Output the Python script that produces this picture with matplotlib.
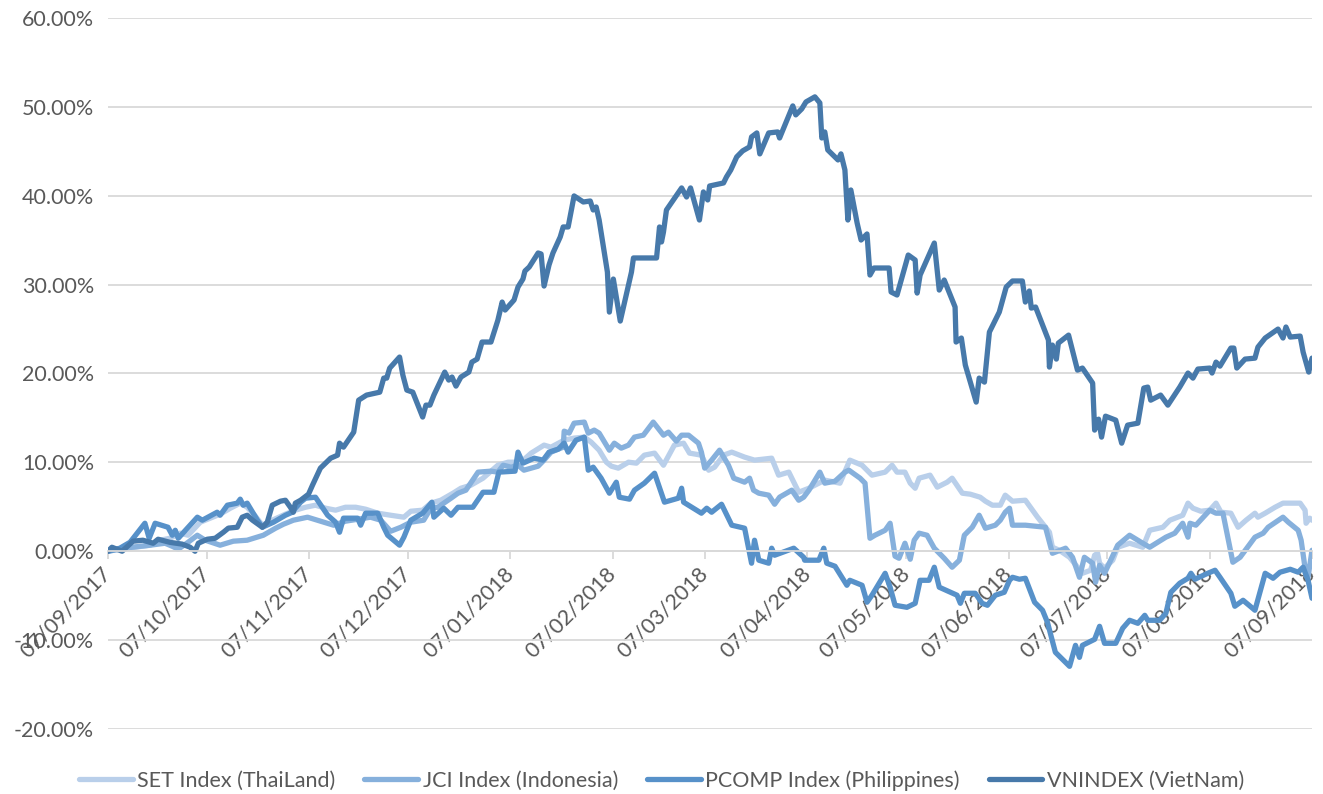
import matplotlib
matplotlib.use("Agg")
import matplotlib.pyplot as plt
import matplotlib.dates as mdates
from matplotlib.ticker import FuncFormatter, MultipleLocator
import pandas as pd

START = pd.Timestamp("2017-09-07")
END = pd.Timestamp("2018-09-07")

# days since 07/09/2017 and cumulative return (%) per index
set_days = [0, 3.6, 8.2, 12.8, 15.8, 18.8, 21.9, 24.3, 28.0, 31.0, 34.0, 37.1, 40.1, 42.2, 44.7,
            46.8, 49.8, 53.8, 56.8, 59.9, 62.9, 66.0, 69.0, 72.0, 75.1, 78.1, 81.8, 85.7, 89.7,
            91.8, 95.4, 97.9, 100.9, 104.6, 107.0, 110.0, 113.7, 118.2, 121.3, 125.2, 128.3,
            132.2, 134.3, 138.3, 141.3, 144.4, 146.5, 148.9, 151.1, 152.6, 154.7, 157.8, 160.2,
            162.6, 165.7, 168.4, 171.7, 174.5, 176.3, 179.9, 182.1, 183.9, 186.6, 189.1, 193.0,
            196.0, 201.2, 203.3, 206.4, 209.4, 212.5, 214.3, 217.3, 221.9, 224.9, 228.6, 231.6,
            235.6, 237.7, 239.2, 241.6, 243.2, 244.7, 245.9, 249.2, 251.4, 254.4, 255.9, 259.0,
            261.4, 264.4, 266.0, 268.1, 270.5, 272.0, 274.2, 278.1, 281.8, 285.4, 286.3, 288.4,
            291.5, 293.9, 295.4, 297.9, 299.1, 300.0, 300.6, 302.1, 304.6, 306.1, 309.7, 313.7,
            315.8, 319.8, 321.9, 325.8, 327.4, 328.9, 331.3, 334.0, 335.9, 337.4, 340.4, 342.6,
            345.0, 347.7, 348.6, 350.8, 353.8, 356.2, 361.4, 362.9, 363.2, 364.3, 365.0]
set_vals = [0, 0.23, 0.45, 0.68, 1.24, 1.46, 2.03, 1.80, 3.27, 3.72, 4.17, 4.84, 5.41, 4.95, 3.94,
            2.93, 3.49, 4.17, 4.62, 4.95, 5.18, 4.84, 4.62, 4.95, 4.95, 4.73, 4.28, 4.05, 3.83,
            4.50, 4.62, 5.41, 5.74, 6.53, 7.09, 7.43, 8.22, 9.68, 10.02, 10.02, 11.04,
            11.94, 11.71, 12.50, 12.73, 12.84, 12.27, 11.37, 10.02, 9.57, 9.35, 10.02, 9.91,
            10.81, 11.04, 9.68, 11.94, 12.16, 11.04, 10.81, 9.12, 9.46, 10.81, 11.15, 10.59,
            10.25, 10.47, 8.56, 8.90, 6.64, 7.09, 7.43, 8.00, 7.66, 10.25, 9.68, 8.56,
            8.90, 9.68, 8.90, 8.90, 7.66, 7.09, 8.22, 8.56, 7.21, 7.77, 8.22, 6.53,
            6.42, 6.08, 5.63, 5.18, 5.18, 6.31, 5.63, 5.74, 3.83, 2.14, 0.45, 0.11,
            -0.68, -1.80, -2.48, -2.14, -0.45, -0.23, -1.35, -1.91, -1.01, 0.45, 0.90, 0.45,
            2.36, 2.70, 3.49, 4.05, 5.41, 4.84, 4.50, 4.62, 5.41, 4.39, 4.28, 2.70,
            3.49, 4.28, 3.83, 4.28, 4.95, 5.41, 5.41, 4.62, 3.15, 3.72, 3.49]

jci_days = [0, 3.6, 7.3, 12.8, 17.3, 19.5, 21.3, 24.3, 27.1, 29.5, 34.0, 38.0, 42.2, 47.1, 50.8,
            53.2, 56.2, 60.5, 64.4, 68.4, 72.0, 75.7, 79.6, 82.7, 85.7, 88.8, 91.8, 95.7, 97.9,
            100.0, 104.0, 106.1, 108.5, 112.2, 116.1, 118.2, 119.8, 122.2, 124.3, 126.1, 130.4,
            132.2, 134.3, 138.0, 138.3, 139.8, 141.3, 144.4, 145.6, 147.4, 148.9, 152.0, 153.5,
            155.6, 157.8, 159.6, 162.3, 165.3, 168.4, 169.9, 172.3, 173.9, 176.0, 179.0, 179.9,
            180.9, 183.0, 185.4, 188.1, 189.7, 193.0, 194.5, 195.7, 197.3, 200.3, 202.1, 203.6,
            207.3, 209.4, 210.9, 212.5, 215.8, 217.3, 220.4, 223.4, 224.6, 228.0, 229.5, 231.0,
            232.5, 235.6, 237.1, 238.6, 239.8, 241.6, 243.2, 244.4, 245.9, 248.3, 250.5, 253.5,
            255.9, 258.1, 259.6, 262.0, 264.1, 266.0, 269.0, 270.5, 272.0, 273.3, 274.2, 278.1,
            284.2, 286.3, 290.3, 292.4, 294.5, 296.0, 298.5, 299.4, 300.6, 302.1, 306.1, 309.7,
            313.7, 315.8, 320.7, 323.4, 325.8, 327.4, 328.0, 329.8, 334.0, 335.9, 338.0, 341.0,
            343.2, 347.7, 350.2, 351.7, 356.2, 357.8, 360.8, 361.7, 363.2, 363.8, 365.0]
jci_vals = [0, 0.23, 0.45, 0.68, 0.90, 0.56, 0.23, 1.01, 1.80, 1.24, 0.68, 1.13, 1.24, 1.80, 2.59,
            3.04, 3.49, 3.83, 3.38, 2.93, 3.38, 3.60, 3.83, 3.49, 2.25, 2.70, 3.27, 3.49, 4.84,
            4.95, 5.97, 6.53, 6.87, 8.90, 9.01, 8.90, 9.68, 9.46, 9.68, 9.12, 9.57,
            10.25, 11.15, 11.71, 13.51, 13.29, 14.41, 14.53, 13.29, 13.63, 13.29, 11.37, 12.16,
            11.60, 11.94, 12.84, 13.06, 14.53, 13.06, 13.40, 12.39, 13.06, 13.06, 12.16, 11.15,
            9.35, 10.25, 11.37, 9.68, 8.22, 7.77, 8.22, 6.87, 6.53, 6.31, 5.29, 6.08,
            6.87, 5.74, 6.08, 6.87, 8.90, 7.66, 7.88, 8.90, 9.12, 8.22, 7.66, 1.46,
            1.80, 2.36, 3.15, -0.56, -0.79, 0.90, -0.90, 1.24, 2.03, 1.80, 0.34, -0.79,
            -1.80, -1.01, 1.80, 2.70, 4.05, 2.59, 2.93, 3.49, 4.39, 4.84, 2.93, 2.93,
            2.70, -0.23, 0.34, -0.68, -2.93, -0.68, -1.35, -3.49, -1.58, -2.48, 0.68, 1.80,
            0.90, 0.45, 1.58, 2.03, 3.15, 1.58, 3.15, 2.93, 4.62, 4.28, 4.28, -1.24,
            -0.68, 1.58, 2.03, 2.70, 3.83, 3.27, 2.36, 1.24, -2.70, -2.93, 0.11]

pcomp_days = [0, 3.6, 6.7, 11.2, 12.5, 14.3, 18.2, 19.5, 20.4, 21.3, 27.1, 28.6, 33.1, 34.0, 36.2,
              39.2, 40.1, 41.0, 42.2, 45.3, 46.8, 50.2, 53.8, 55.9, 56.8, 58.4, 59.9, 62.9, 66.6,
              69.0, 70.2, 71.4, 75.7, 76.6, 78.1, 81.8, 83.6, 84.8, 88.4, 89.7, 91.8, 95.4, 98.2,
              98.8, 101.8, 104.0, 106.1, 110.6, 113.7, 117.0, 118.5, 123.4, 124.3, 125.8, 129.2,
              131.9, 133.7, 136.5, 138.3, 139.5, 141.9, 144.4, 145.6, 147.1, 149.5, 152.0, 154.1,
              155.0, 158.1, 159.6, 162.6, 165.7, 168.7, 172.9, 173.9, 174.5, 179.9, 181.5, 183.0,
              186.0, 189.1, 193.0, 195.1, 196.0, 197.3, 200.3, 201.2, 202.1, 207.9, 210.9, 211.2,
              215.5, 217.0, 217.9, 220.4, 222.5, 224.0, 224.9, 228.6, 230.1, 231.6, 235.6, 237.1,
              238.6, 242.2, 244.7, 246.2, 248.9, 250.5, 252.0, 257.4, 258.4, 259.6, 262.9, 265.0,
              266.6, 269.0, 271.7, 273.3, 274.2, 276.3, 278.1, 280.9, 283.3, 284.8, 287.2, 291.5,
              293.3, 294.5, 295.4, 299.1, 300.6, 302.1, 305.5, 307.6, 309.7, 312.2, 314.3, 315.2,
              318.8, 320.7, 322.2, 324.9, 327.4, 328.3, 329.5, 333.4, 335.6, 337.1, 340.4, 341.6,
              344.1, 347.7, 350.8, 353.2, 355.3, 358.4, 360.8, 362.3, 363.8, 365.0]
pcomp_vals = [0, 0.34, 1.01, 3.15, 1.46, 3.15, 2.70, 1.80, 2.36, 1.46, 3.83, 3.49, 4.39, 4.05, 5.18,
              5.41, 5.86, 5.18, 5.41, 3.49, 2.70, 3.27, 4.05, 4.39, 4.84, 5.52, 5.97, 6.08, 4.05,
              3.27, 2.14, 3.72, 3.72, 2.93, 4.28, 4.28, 2.70, 1.80, 0.68, 1.58, 3.49, 4.28, 5.52,
              3.83, 4.84, 4.05, 4.95, 4.95, 6.64, 6.64, 8.90, 9.01, 11.15, 9.91, 10.47,
              10.25, 11.15, 11.49, 12.16, 11.15, 12.50, 12.84, 9.12, 9.46, 8.22, 6.53, 7.77,
              6.08, 5.86, 6.87, 7.66, 8.78, 5.52, 5.97, 7.09, 5.52, 4.28, 4.84, 4.39,
              5.29, 2.93, 2.59, -1.35, 1.24, -1.01, -1.35, 0.34, -0.45, 0.34, -0.68, -1.01,
              -1.01, 0.34, -1.35, -1.69, -2.93, -3.83, -3.27, -3.83, -5.74, -4.95, -2.48, -4.05,
              -6.08, -6.31, -5.86, -3.27, -3.27, -1.80, -4.05, -4.95, -5.86, -4.73, -4.73, -5.86,
              -6.08, -4.95, -4.62, -3.27, -2.93, -3.15, -3.04, -5.74, -6.64, -8.00, -11.37, -12.95,
              -10.59, -11.94, -10.59, -9.91, -8.45, -10.36, -10.36, -8.67, -7.77, -8.11, -7.21, -7.77,
              -7.77, -6.98, -4.62, -3.60, -3.04, -2.48, -3.15, -2.48, -2.14, -2.93, -4.73, -6.19,
              -5.52, -6.64, -2.48, -3.04, -2.36, -2.03, -2.36, -1.80, -3.27, -5.29]

vn_days = [0, 1.2, 4.3, 7.6, 10.6, 13.7, 15.2, 18.8, 22.5, 24.9, 26.4, 27.4, 30.1, 32.5, 35.0,
           36.5, 39.2, 40.7, 42.2, 43.8, 46.8, 48.3, 49.8, 52.3, 53.8, 55.3, 56.2, 56.8, 58.4,
           60.8, 62.0, 64.4, 67.5, 69.6, 70.2, 71.4, 74.5, 76.0, 78.4, 82.4, 83.6, 84.5, 85.4,
           88.4, 89.4, 90.6, 92.4, 95.4, 96.4, 97.6, 98.8, 102.1, 103.3, 104.3, 105.5, 107.0,
           109.4, 110.3, 111.9, 113.4, 116.1, 118.2, 119.5, 120.4, 123.1, 124.3, 125.8, 126.4,
           127.7, 130.4, 131.3, 132.2, 133.7, 134.9, 137.1, 138.0, 139.5, 141.3, 144.1, 146.2,
           147.1, 148.0, 148.9, 151.4, 152.0, 153.2, 155.3, 158.7, 159.3, 166.3, 167.2, 167.8,
           168.4, 169.3, 173.9, 175.4, 176.6, 179.3, 180.5, 181.8, 182.4, 186.6, 187.5, 188.8,
           190.6, 192.4, 194.5, 195.1, 196.7, 197.6, 200.3, 203.0, 203.6, 207.6, 208.5, 210.3,
           211.6, 214.3, 215.8, 216.4, 217.3, 218.2, 221.3, 222.2, 223.4, 224.3, 225.2, 227.1,
           228.3, 230.1, 231.0, 232.2, 236.8, 237.4, 239.2, 242.6, 244.7, 245.3, 246.2, 250.5,
           252.0, 253.5, 256.8, 257.1, 258.7, 259.9, 263.2, 264.1, 265.7, 267.2, 270.2, 272.3,
           274.2, 277.2, 278.1, 279.3, 279.9, 281.2, 285.1, 285.4, 286.3, 287.5, 288.1, 291.2,
           293.9, 295.4, 298.5, 299.1, 300.3, 301.2, 302.4, 305.5, 307.3, 309.1, 312.2, 314.0,
           315.2, 316.1, 319.1, 321.3, 324.9, 327.4, 328.9, 330.4, 334.0, 334.7, 335.9, 337.1,
           340.4, 341.3, 342.2, 344.7, 347.7, 348.6, 350.8, 354.7, 356.2, 357.1, 358.4, 361.4,
           362.3, 364.0, 365.0]
vn_vals = [0, 0.45, 0, 1.13, 1.24, 0.90, 1.35, 1.00, 0.80, 0.45, 0, 0.90, 1.35, 1.46, 2.14,
           2.60, 2.70, 3.83, 4.05, 3.50, 2.70, 3.27, 5.18, 5.63, 5.74, 4.95, 4.39, 5.41, 5.74,
           6.42, 7.43, 9.35, 10.47, 10.81, 12.16, 11.71, 13.40, 17.00, 17.57, 17.90, 19.48, 19.48, 20.60,
           21.85, 19.82, 18.13, 17.90, 15.10, 16.44, 16.44, 17.57, 20.16, 19.26, 19.60, 18.58, 19.60,
           20.16, 21.28, 21.62, 23.54, 23.54, 26.00, 28.04, 27.14, 28.27, 29.73, 30.63, 31.53,
           31.98, 33.56, 33.45, 29.84, 32.21, 33.56, 35.36, 36.49, 36.49, 39.98, 39.30, 39.41,
           38.40, 38.74, 37.27, 31.42, 26.91, 30.63, 25.90, 31.42, 33.00, 33.00, 36.49, 34.80,
           35.92, 38.40, 40.88, 39.86, 40.88, 37.27, 40.43, 39.53, 41.10, 41.44, 42.12, 42.90,
           44.37, 45.05, 45.50, 46.62, 47.07, 44.71, 47.07, 47.18, 46.50, 50.11, 49.10, 49.77,
           50.56, 51.13, 50.45, 46.50, 47.18, 45.16, 44.03, 44.71, 42.90, 37.27, 40.65, 36.94,
           35.02, 35.70, 31.08, 31.87, 31.87, 29.17, 28.83, 33.33, 32.77, 29.05, 31.08, 34.68,
           29.39, 30.52, 27.48, 23.54, 23.99, 20.95, 16.78, 19.48, 19.03, 24.66, 26.91, 29.73,
           30.41, 30.41, 28.04, 29.28, 27.36, 27.48, 23.76, 20.72, 23.20, 21.62, 23.42, 24.32,
           20.38, 20.61, 18.92, 13.63, 14.86, 12.84, 15.20, 14.75, 12.16, 14.19, 14.41, 18.36,
           18.47, 17.00, 17.57, 16.44, 18.47, 20.05, 19.48, 20.50, 20.61, 20.05, 21.28, 20.83,
           22.86, 22.86, 20.61, 21.62, 21.73, 22.97, 23.99, 25.00, 23.99, 25.23, 24.10, 24.21,
           22.41, 20.16, 21.73]

labels = ["SET Index (ThaiLand)", "JCI Index (Indonesia)", "PCOMP Index (Philippines)", "VNINDEX (VietNam)"]
colors = ["#b9cfea", "#86b0dc", "#5791c9", "#4779aa"]


def to_dates(days):
    return START + pd.to_timedelta(days, unit="D")


plt.rcParams["font.family"] = ["Lato", "DejaVu Sans"]

fig = plt.figure(figsize=(13.23, 7.94), dpi=100)
ax = fig.add_axes([0.0816, 0.0819, 0.9101, 0.8954])

series = [(set_days, set_vals), (jci_days, jci_vals), (pcomp_days, pcomp_vals), (vn_days, vn_vals)]
for (d, v), lab, col in zip(series, labels, colors):
    ax.plot(to_dates(d), v, color=col, lw=3.8, label=lab, solid_joinstyle="round", solid_capstyle="round")

ax.set_xlim(START, END)
ax.set_ylim(-20, 60)
ax.yaxis.set_major_locator(MultipleLocator(10))
ax.yaxis.set_major_formatter(FuncFormatter(lambda v, p: f"{v:.2f}%"))
ax.grid(axis="y", color="#d9d9d9", lw=1.3)
ax.set_axisbelow(True)

ax.xaxis.set_major_locator(mdates.MonthLocator(bymonthday=7))
ax.xaxis.set_major_formatter(mdates.DateFormatter("%d/%m/%Y"))

for s in ["top", "right", "left"]:
    ax.spines[s].set_visible(False)
ax.spines["bottom"].set_position(("data", 0))
ax.spines["bottom"].set_color("#d9d9d9")
ax.spines["bottom"].set_linewidth(1.3)

ax.tick_params(axis="y", length=0, labelsize=15.5, labelcolor="#595959", pad=10)
ax.tick_params(axis="x", length=6, width=1.3, color="#d9d9d9", labelsize=15.5, labelcolor="#595959",
               direction="out", pad=8)
for t in ax.get_xticklabels():
    t.set_rotation(45)
    t.set_ha("right")
    t.set_va("center")
    t.set_rotation_mode("anchor")

fig.legend(loc="lower center", ncol=4, frameon=False, fontsize=15.5, labelcolor="#595959",
           bbox_to_anchor=(0.5, -0.02), handlelength=2.5, columnspacing=1.35, handletextpad=0.2)

fig.savefig("out.png", dpi=100)
